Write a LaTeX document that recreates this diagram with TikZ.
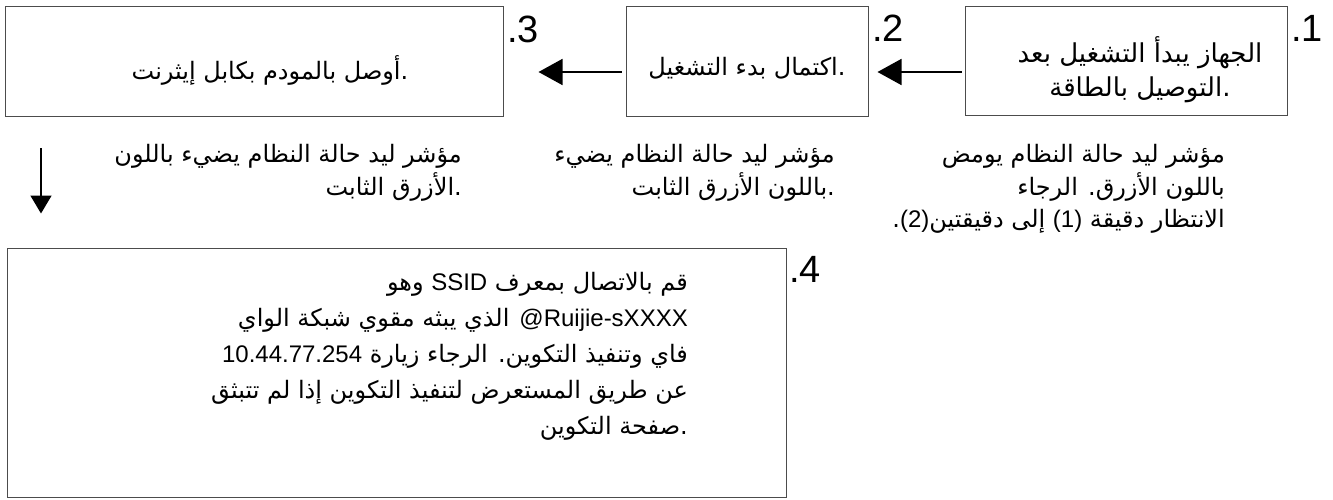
\documentclass[tikz,border=0pt]{standalone}
\usepackage{fontspec}
\setmainfont{Liberation Sans}
\newfontfamily\arabicfont[Script=Arabic]{DejaVu Sans}
\newfontfamily\latinfont{Liberation Sans}
\TeXXeTstate=1
\usetikzlibrary{arrows.meta}
\newcommand\arl[1]{\beginR#1\endR}
\newcommand\lat[1]{\beginL{\latinfont#1}\endL}
\newcommand\rlines[1]{\vtop{\halign{\hfil##\cr#1\crcr}}}
\newcommand\clines[1]{\vtop{\halign{\hfil##\hfil\cr#1\crcr}}}
\begin{document}
\begin{tikzpicture}[x=1pt,y=-1pt,
  box/.style={draw=black!70, line width=1pt, inner sep=0pt},
  txt/.style={font=\arabicfont\fontsize{24}{33}\selectfont, inner sep=0pt},
  txtl/.style={font=\arabicfont\fontsize{26}{34}\selectfont, inner sep=0pt},
  txtb/.style={font=\arabicfont\fontsize{24}{36}\selectfont, inner sep=0pt},
  num/.style={font=\latinfont\fontsize{38}{38}\selectfont, inner sep=0pt, anchor=base west},
  arr/.style={line width=1.6pt, -{Triangle[length=24pt,width=26pt]}},
  darr/.style={line width=1.6pt, -{Triangle[length=18pt,width=21pt]}}]
\useasboundingbox (0,0) rectangle (1333,500);
% boxes
\node[box, minimum width=322pt, minimum height=109pt] (b1) at (1126,61.5) {};
\node[box, minimum width=242pt, minimum height=110pt] (b2) at (747,62) {};
\node[box, minimum width=498pt, minimum height=110pt] (b3) at (254,62) {};
\node[box, minimum width=779pt, minimum height=249pt] (b4) at (396.5,372.5) {};
% numbers
\node[num] (n1) at (1291,42) {.1};
\node[num] (n2) at (872,42) {.2};
\node[num] (n3) at (507,43) {.3};
\node[num] (n4) at (789,282) {.4};
% box texts
\node[txtl, anchor=base] (t1) at (1140,63) {\clines{\arl{الجهاز يبدأ التشغيل بعد}\cr \arl{.التوصيل بالطاقة}}};
\node[txt, anchor=base] (t2) at (747,76) {\arl{.اكتمال بدء التشغيل}};
\node[txt, anchor=base] (t3) at (270,80) {\arl{.أوصل بالمودم بكابل إيثرنت}};
% descriptions
\node[txt, anchor=base east] (d1) at (1225,162) {\rlines{\arl{مؤشر ليد حالة النظام يومض}\cr \arl{باللون الأزرق. الرجاء}\cr \arl{الانتظار دقيقة \lat{(1)} إلى دقيقتين\lat{(2)}.}}};
\node[txt, anchor=base east] (d2) at (835,162) {\rlines{\arl{مؤشر ليد حالة النظام يضيء}\cr \arl{.باللون الأزرق الثابت}}};
\node[txt, anchor=base east] (d3) at (462,162) {\rlines{\arl{مؤشر ليد حالة النظام يضيء باللون}\cr \arl{.الأزرق الثابت}}};
% box 4 text
\node[txtb, anchor=base east] (t4) at (688,290) {\rlines{\arl{قم بالاتصال بمعرف \lat{SSID} وهو}\cr
 \arl{\lat{@Ruijie-sXXXX}\hspace{10pt}الذي يبثه مقوي شبكة الواي}\cr
 \arl{فاي وتنفيذ التكوين. الرجاء زيارة \lat{10.44.77.254}}\cr
 \arl{عن طريق المستعرض لتنفيذ التكوين إذا لم تتبثق}\cr
 \arl{.صفحة التكوين}}};
% connectors
\coordinate (ya) at (0,72);
\coordinate (xd) at (41,0);
\draw[arr, shorten <=3pt, shorten >=9pt] (b1.west |- ya) -- (b2.east |- ya);
\draw[arr, shorten <=4pt, shorten >=35pt] (b2.west |- ya) -- (b3.east |- ya);
\draw[darr, shorten <=31pt, shorten >=34pt] (b3.south -| xd) -- (b4.north -| xd);
\end{tikzpicture}
\end{document}
